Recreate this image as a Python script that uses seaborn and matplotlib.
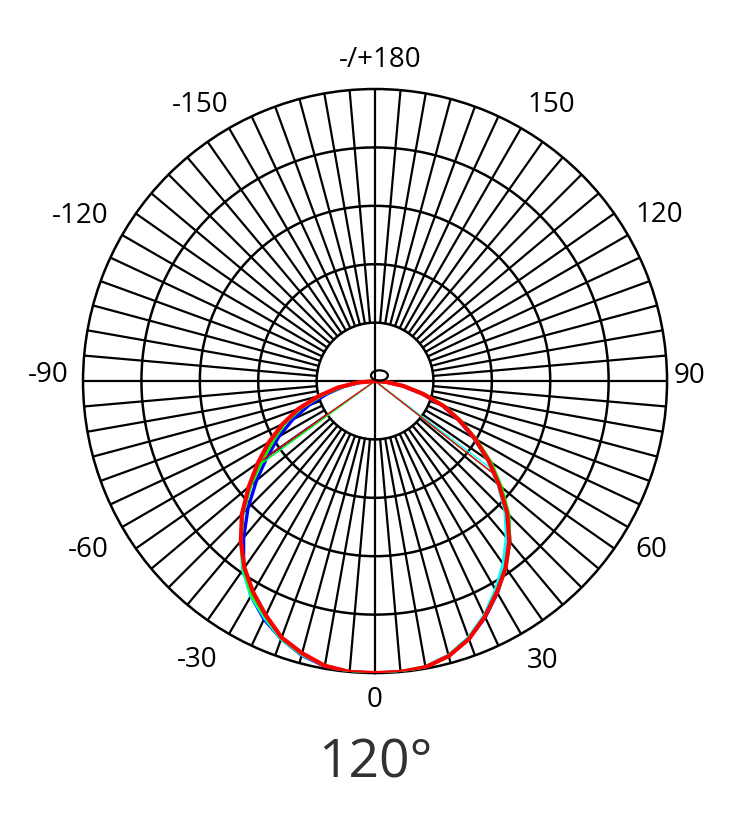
import numpy as np
import pandas as pd
import matplotlib
matplotlib.use("Agg")
import matplotlib.pyplot as plt
from matplotlib.patches import Ellipse
from matplotlib.transforms import offset_copy
import seaborn as sns

sns.set_theme(style="white")
plt.rcParams["font.family"] = ["Open Sans", "DejaVu Sans"]

# ---- data (relative intensity, 1.0 = outer circle) ----
angles_deg = list(range(-90, 95, 5))  # -90 .. 90

blue = [0.00, 0.05, 0.11, 0.17, 0.24, 0.31, 0.38, 0.45, 0.53, 0.615, 0.70, 0.785, 0.85, 0.90,
        0.94, 0.972, 0.992, 1.000, 1.000, 1.000, 0.995, 0.975, 0.94, 0.893, 0.838, 0.78,
        0.718, 0.645, 0.555, 0.472, 0.39, 0.315, 0.245, 0.165, 0.095, 0.035, 0.00]
cyan = [0.00, 0.06, 0.12, 0.19, 0.27, 0.34, 0.41, 0.48, 0.56, 0.64, 0.715, 0.79, 0.85, 0.895,
        0.94, 0.97, 0.99, 1.000, 1.000, 1.000, 0.993, 0.972, 0.935, 0.885, 0.825, 0.765,
        0.70, 0.63, 0.55, 0.47, 0.39, 0.32, 0.25, 0.17, 0.10, 0.04, 0.00]
green = [0.00, 0.06, 0.12, 0.19, 0.27, 0.34, 0.40, 0.47, 0.555, 0.64, 0.715, 0.785, 0.845, 0.89,
         0.937, 0.968, 0.99, 1.000, 1.000, 1.000, 0.995, 0.975, 0.94, 0.89, 0.835, 0.78,
         0.718, 0.648, 0.565, 0.485, 0.40, 0.325, 0.255, 0.175, 0.105, 0.045, 0.00]
red = [0.00, 0.06, 0.13, 0.20, 0.28, 0.35, 0.42, 0.49, 0.565, 0.645, 0.715, 0.78, 0.835, 0.885,
       0.935, 0.965, 0.99, 1.000, 1.000, 1.000, 0.995, 0.975, 0.94, 0.89, 0.835, 0.78,
       0.715, 0.64, 0.555, 0.475, 0.395, 0.32, 0.25, 0.17, 0.10, 0.04, 0.00]

series_names = ["blue", "cyan", "green", "red"]
series_values = [blue, cyan, green, red]
series_colors = ["#0000ff", "#00ffff", "#00ff00", "#ff0000"]
series_widths = [2.4, 2.4, 2.4, 3.0]
# angles (deg) where each curve is joined back to the centre by a thin line
spoke_left = [-55, -54, -54, -55]
spoke_right = [52, 53, 52, 52]

tick_labels = ["0", "30", "60", "90", "120", "150", "-/+180", "-150", "-120", "-90", "-60", "-30"]
# label placement (style): angle in degrees and radius relative to outer circle
label_theta = [0, 31.3, 59.1, 91.6, 120.8, 147.8, 179.1, -148.0, -119.8, -91.6, -60.1, -32.8]
label_radii = [1.082, 1.107, 1.101, 1.079, 1.132, 1.133, 1.113, 1.129, 1.164, 1.120, 1.134, 1.124]
grid_radii = [0.2, 0.4, 0.6, 0.8]
title_text = "120°"

# ---- figure ----
fig = plt.figure(figsize=(7.5, 8.18), dpi=100)
ax = fig.add_axes([0.1107, 0.1772, 0.7787, 0.714], projection="polar")
ax.set_theta_zero_location("S")
ax.set_theta_direction(1)
ax.set_ylim(0, 1)
ax.grid(False)
ax.set_xticks([])
ax.set_yticks([])
ax.spines["polar"].set_linewidth(1.8)
ax.spines["polar"].set_color("black")
ax.set_facecolor("white")

# grid circles
full = np.linspace(0, 2 * np.pi, 721)
for r in grid_radii:
    ax.plot(full, np.full_like(full, r), color="black", lw=1.8, zorder=1)
# radial lines
for a in range(0, 360, 5):
    t = np.deg2rad(a)
    r0 = 0.0 if a % 90 == 0 else grid_radii[0]
    ax.plot([t, t], [r0, 1.0], color="black", lw=1.6, zorder=1)

# curves
theta = np.deg2rad(angles_deg)
for name, vals, col, lw, sl, sr in zip(series_names, series_values, series_colors,
                                       series_widths, spoke_left, spoke_right):
    df = pd.DataFrame({"theta": theta, "r": vals})
    sns.lineplot(data=df, x="theta", y="r", ax=ax, color=col, lw=lw, sort=False,
                 estimator=None, zorder=3)
    for sa in (sl, sr):
        rv = np.interp(sa, angles_deg, vals)
        ax.plot([np.deg2rad(sa), np.deg2rad(sa)], [0, rv], color=col, lw=0.9, zorder=3)

ax.set_xlabel("")
ax.set_ylabel("")

# small source marker near the centre
ax.add_patch(Ellipse((0.5075, 0.5094), 0.029, 0.0178, transform=ax.transAxes,
                     facecolor="none", edgecolor="black", lw=1.6, zorder=4))

# angle labels
lab_tr = offset_copy(ax.transData, fig=fig, x=0, y=-2.5, units="points")
for a, lab, rr in zip(label_theta, tick_labels, label_radii):
    ax.text(np.deg2rad(a), rr, lab, ha="center", va="center", fontsize=20,
            color="black", clip_on=False, transform=lab_tr)

fig.text(0.5, 1 - 764 / 818, title_text, ha="center", va="center", fontsize=38.5,
         color="#333030")

fig.savefig("out.png", dpi=100, facecolor="white")
